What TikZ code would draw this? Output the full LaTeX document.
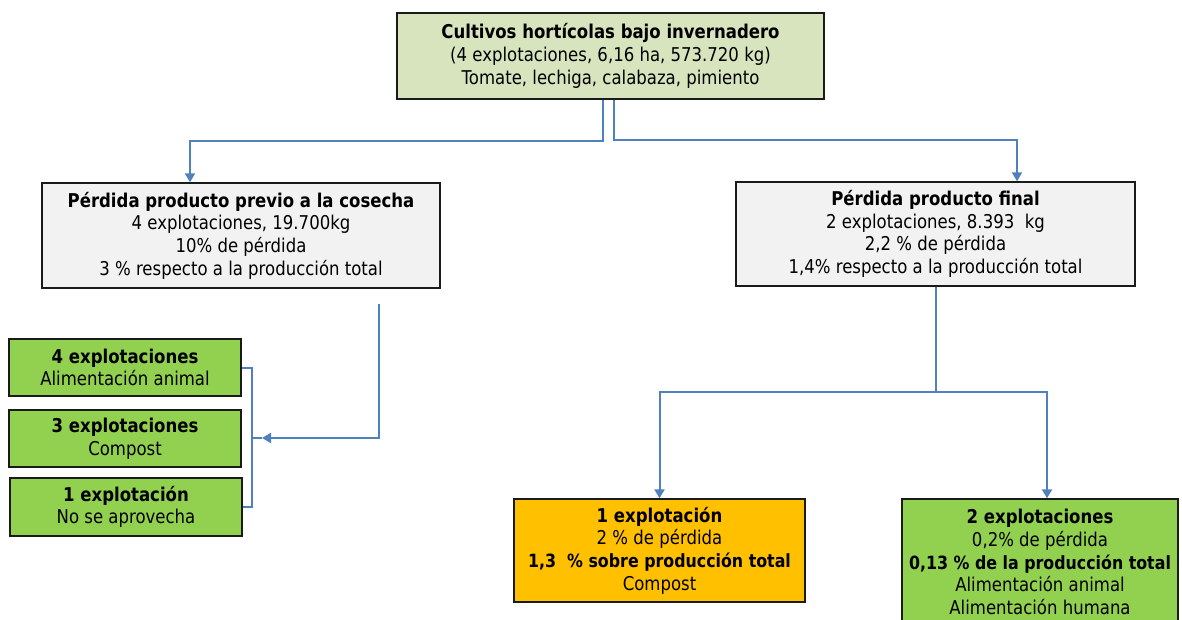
\documentclass[tikz,border=0pt]{standalone}
\usepackage{fontspec}
\setmainfont{DejaVu Sans}[FakeStretch=0.87]
\usetikzlibrary{arrows.meta,calc}
\definecolor{topfill}{HTML}{D7E4BD}
\definecolor{grayfill}{HTML}{F2F2F2}
\definecolor{greenfill}{HTML}{92D050}
\definecolor{orangefill}{HTML}{FFC000}
\definecolor{connc}{HTML}{4F81BD}
\definecolor{borderc}{HTML}{1A1A1A}
\newcommand{\narrowbold}[1]{{\fontsize{18.2}{22.7}\selectfont\textbf{#1}}}
\tikzset{
  box/.style={draw=borderc, line width=1.4pt, rectangle, align=center, inner sep=0pt,
    font=\fontsize{19}{22.7}\selectfont},
  conn/.style={draw=connc, line width=2pt},
  arr/.style={conn, -{Triangle[width=10pt,length=9pt]}},
}
\begin{document}
\begin{tikzpicture}[x=1pt,y=-1pt]
\useasboundingbox (0,0) rectangle (1182,619);
\node[box, fill=topfill, minimum width=427pt, minimum height=86pt] (top) at (610.5,56)
  {\textbf{Cultivos hortícolas bajo invernadero}\\(4 explotaciones, 6,16 ha, 573.720 kg)\\Tomate, lechiga, calabaza, pimiento};
\node[box, fill=grayfill, minimum width=398pt, minimum height=105pt] (lg) at (241,235.5)
  {\textbf{Pérdida producto previo a la cosecha}\\4 explotaciones, 19.700kg\\10\% de pérdida\\3 \% respecto a la producción total};
\node[box, fill=grayfill, minimum width=399pt, minimum height=104pt] (rg) at (935.5,234)
  {\textbf{Pérdida producto final}\\2 explotaciones, 8.393 \ kg\\2,2 \% de pérdida\\1,4\% respecto a la producción total};
\node[box, fill=greenfill, minimum width=232pt, minimum height=57pt] (g1) at (125,367.5)
  {\textbf{4 explotaciones}\\Alimentación animal};
\node[box, fill=greenfill, minimum width=232pt, minimum height=57pt] (g2) at (125,438.5)
  {\textbf{3 explotaciones}\\Compost};
\node[box, fill=greenfill, minimum width=232pt, minimum height=58pt] (g3) at (126,507)
  {\textbf{1 explotación}\\No se aprovecha};
\node[box, fill=orangefill, minimum width=291pt, minimum height=103pt] (or) at (659.5,550.5)
  {\textbf{1 explotación}\\2 \% de pérdida\\\narrowbold{1,3 \ \% sobre producción total}\\Compost};
\node[box, fill=greenfill, minimum width=276pt, minimum height=126pt] (gb) at (1040,562)
  {\textbf{2 explotaciones}\\0,2\% de pérdida\\\narrowbold{0,13 \% de la producción total}\\Alimentación animal\\Alimentación humana};
% connectors
\draw[arr] ([xshift=-7.5pt]top.south) -- ++(0,41) -| ([xshift=-51pt]lg.north);
\draw[arr] ([xshift=3.5pt]top.south) -- ++(0,40) -| ([xshift=81.5pt]rg.north);
\coordinate (rj) at ($(rg.south)+(0,105)$);
\draw[conn] (rg.south) -- (rj);
\draw[arr] (rj) -| (or.north);
\draw[arr] (rj) -| ([xshift=7pt]gb.north);
\coordinate (bm) at (251,438);
\coordinate (bk) at (262,438);
\draw[conn] (g1.east) -- ++(10,0) |- (g3.east);
\draw[conn] (bm) -- (bk);
\draw[arr] ([xshift=138pt,yshift=-15pt]lg.south) |- (bk);
\end{tikzpicture}
\end{document}
